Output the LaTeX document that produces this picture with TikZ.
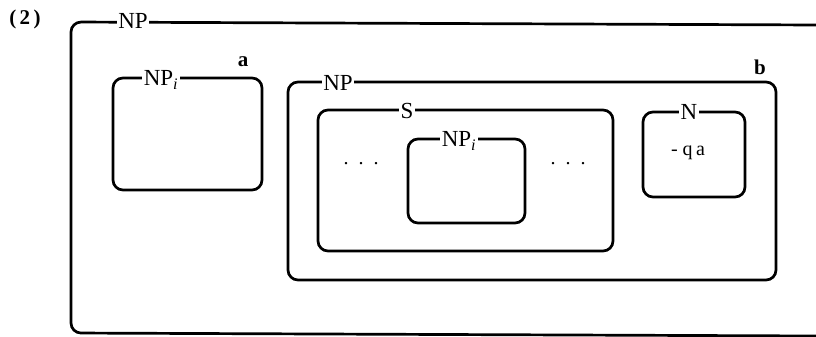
\documentclass[tikz,border=0pt]{standalone}
\usepackage{fontspec}
\setmainfont{Liberation Serif}
\begin{document}
\begin{tikzpicture}[x=1pt,y=-1pt,
  box/.style={draw, line width=2.7pt, rounded corners=10pt, inner sep=0pt},
  lab/.style={fill=white, inner sep=1.5pt, font=\fontsize{23}{25}\selectfont},
  tag/.style={inner sep=0pt, font=\fontsize{21}{23}\selectfont\bfseries}]
\useasboundingbox (0,0) rectangle (816,337);
% outer NP box (open on the right)
\coordinate (otr) at (818,25);
\coordinate (obr) at (818,336);
\draw[line width=2.7pt, rounded corners=10pt] (otr) -- (71,22) -- (71,333) -- (obr);
\node[lab] (onp) at (133,21) {NP};
\node[inner sep=0pt, font=\fontsize{21}{23}\selectfont\bfseries] (num) at (25,19) {(\,2\,)};
% box a
\node[box, minimum width=149pt, minimum height=112pt] (a) at (187.5,134) {};
\node[lab] (anp) at (161,80) {NP$_{\mathit{i}}$};
\node[tag] (alab) at (243,62) {a};
% box b
\node[box, minimum width=488pt, minimum height=198pt] (b) at (532,181) {};
\node[lab] (bnp) at (338,83) {NP};
\node[tag] (blab) at (760,67) {b};
% box S
\node[box, minimum width=295pt, minimum height=141pt] (s) at (465.5,180.5) {};
\node[lab] (slab) at (407,111) {S};
% inner NP_i
\node[box, minimum width=117pt, minimum height=84pt] (inp) at (466.5,181) {};
\node[lab] (inplab) at (459,141) {NP$_{\mathit{i}}$};
% dots
\node[inner sep=0pt, font=\fontsize{20}{22}\selectfont] (ldots) at (361,164) {.\ \ .\ \ .};
\node[inner sep=0pt, font=\fontsize{20}{22}\selectfont] (rdots) at (568,164) {.\ \ .\ \ .};
% box N
\node[box, minimum width=102pt, minimum height=85pt] (n) at (694,154.5) {};
\node[lab] (nlab) at (689,112) {N};
\node[inner sep=0pt, font=\fontsize{20}{22}\selectfont] (qa) at (688,153) {- q\,a};
\end{tikzpicture}
\end{document}
